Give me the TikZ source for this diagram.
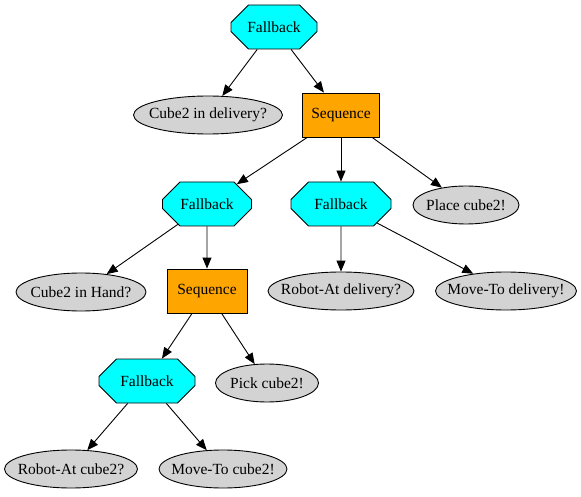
\documentclass[tikz,border=0pt]{standalone}
\usepackage{fontspec}
\setmainfont{Liberation Serif}
\usepackage{tikz}
\usetikzlibrary{arrows.meta,shapes.geometric,shapes.misc}
\definecolor{fbcyan}{RGB}{0,255,255}
\definecolor{seqorange}{RGB}{255,165,0}
\definecolor{leafgray}{RGB}{211,211,211}
\newcommand{\leaflabel}[1]{\makebox[0pt]{#1}}
\tikzset{
  fbbox/.style={
    chamfered rectangle,
    chamfered rectangle xsep=25pt,
    chamfered rectangle ysep=12pt,
    draw=black,
    fill=fbcyan,
    line width=0.9pt,
    minimum width=86pt,
    minimum height=44pt,
    inner sep=0pt,
    font=\fontsize{15.5}{18}\selectfont
  },
  seqbox/.style={
    rectangle,
    draw=black,
    fill=seqorange,
    line width=0.9pt,
    minimum width=77pt,
    minimum height=44pt,
    inner sep=0pt,
    font=\fontsize{15.5}{18}\selectfont
  },
  leafbox/.style={
    ellipse,
    draw=black,
    fill=leafgray,
    line width=0.9pt,
    minimum height=38pt,
    inner sep=0pt,
    font=\fontsize{15.5}{18}\selectfont
  },
  treearrow/.style={
    -{Triangle[length=11pt,width=9pt]},
    line width=0.9pt,
    draw=black
  }
}

\begin{document}
\begin{tikzpicture}[x=1pt,y=-1pt]
\useasboundingbox (0,0) rectangle (581,497);
\node[fbbox] (fbtop) at (274,27) {Fallback};
\node[leafbox, minimum width=149pt] (indelivery) at (208,115) {\leaflabel{Cube2 in delivery?}};
\node[seqbox] (seqtop) at (341,115) {Sequence};
\node[fbbox, minimum width=89pt] (fbleft) at (207,204) {Fallback};
\node[fbbox, minimum width=100pt, chamfered rectangle xsep=29pt] (fbmid) at (341,204) {Fallback};
\node[leafbox, minimum width=106pt] (placecube) at (466,205) {\leaflabel{Place cube2!}};
\node[leafbox, minimum width=130pt] (inhand) at (81,292) {\leaflabel{Cube2 in Hand?}};
\node[seqbox, minimum width=80pt] (seqleft) at (207,291) {Sequence};
\node[leafbox, minimum width=146pt] (atdelivery) at (341,291) {\leaflabel{Robot-At delivery?}};
\node[leafbox, minimum width=141pt] (movedelivery) at (506,291) {\leaflabel{Move-To delivery!}};
\node[fbbox, minimum width=96pt, chamfered rectangle xsep=28pt] (fbbottom) at (147,381) {Fallback};
\node[leafbox, minimum width=103pt] (pickcube) at (267,383) {\leaflabel{Pick cube2!}};
\node[leafbox, minimum width=133pt] (atcube) at (71,469) {\leaflabel{Robot-At cube2?}};
\node[leafbox, minimum width=128pt] (movecube) at (223,469) {\leaflabel{Move-To cube2!}};

\draw[treearrow] (fbtop) -- (indelivery);
\draw[treearrow] (fbtop) -- (seqtop);
\draw[treearrow] (seqtop) -- (fbleft);
\draw[treearrow] (seqtop) -- (fbmid);
\draw[treearrow] (seqtop) -- (placecube);
\draw[treearrow] (fbleft) -- (inhand);
\draw[treearrow] (fbleft) -- (seqleft);
\draw[treearrow] (fbmid) -- (atdelivery);
\draw[treearrow] (fbmid) -- (movedelivery);
\draw[treearrow] (seqleft) -- (fbbottom);
\draw[treearrow] (seqleft) -- (pickcube);
\draw[treearrow] (fbbottom) -- (atcube);
\draw[treearrow] (fbbottom) -- (movecube);
\end{tikzpicture}
\end{document}
